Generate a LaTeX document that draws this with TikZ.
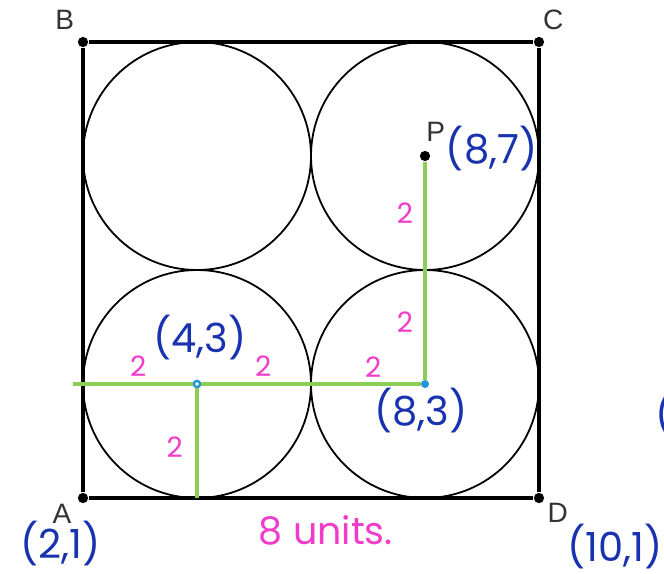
\documentclass[tikz,border=0pt]{standalone}
\usepackage{fontspec}
\setmainfont{Liberation Sans}
\newfontfamily\handfont{Poppins}
\usetikzlibrary{positioning}
\definecolor{penblue}{RGB}{25,50,175}
\definecolor{penpink}{RGB}{240,60,200}
\definecolor{rulegreen}{RGB}{140,205,85}
\definecolor{dotcyan}{RGB}{30,150,220}

\begin{document}
\begin{tikzpicture}[x=1cm,y=1cm,
  corner/.style={circle,fill=black,inner sep=0pt,minimum size=0.18cm},
  pt/.style={font=\fontsize{14}{14}\selectfont,text=black!80},
  coordtext/.style={font=\handfont\fontsize{20}{20}\selectfont,text=penblue},
  len/.style={font=\handfont\fontsize{14}{14}\selectfont,text=penpink},
  radius line/.style={rulegreen,line width=1.7pt},
  side/.style={line width=1.6pt},
  ring/.style={line width=0.9pt}
]
\useasboundingbox (0.544,-0.316) rectangle (12.193,9.737);
% corners of the square
\node[corner] (A) at (2,1) {};
\node[corner] (B) at (2,9) {};
\node[corner] (C) at (10,9) {};
\node[corner] (D) at (10,1) {};
\draw[side] (A) -- (B) -- (C) -- (D) -- (A);
% the four circles
\foreach \cx/\cy in {4/3,8/3,4/7,8/7}
  \draw[ring] (\cx,\cy) circle (2);
% centres
\node[corner] (P) at (8,7) {};
\node[circle,draw=dotcyan,line width=1.2pt,inner sep=0pt,minimum size=0.11cm] (Q) at (4,3) {};
\node[circle,fill=dotcyan,inner sep=0pt,minimum size=0.14cm] (R) at (8,3) {};
\coordinate (left) at (1.82,3);
\coordinate (foot) at (4,1);
\draw[radius line] (left) -- (Q);
\draw[radius line] (Q) -- (R);
\draw[radius line] (Q) -- (foot);
\draw[radius line] (R) -- (P);
% labels
\node[pt] (labA) at (1.63,0.72) {A};
\node[pt] (labB) at (1.68,9.39) {B};
\node[pt] (labC) at (10.25,9.39) {C};
\node[pt] (labD) at (10.33,0.74) {D};
\node[pt] (labP) at (8.19,7.43) {P};
\node[coordtext] (cA) at (1.61,0.2) {(2,1)};
\node[coordtext] (cD) at (11.33,0.15) {(10,1)};
\node[coordtext] (cP) at (9.17,7.14) {(8,7)};
\node[coordtext] (cQ) at (4.05,3.82) {(4,3)};
\node[coordtext] (cR) at (7.93,2.53) {(8,3)};
\node[coordtext] (cut) at (12.2,2.47) {(};
\node[len] (l1) at (2.97,3.32) {2};
\node[len] (l2) at (5.16,3.32) {2};
\node[len] (l3) at (7.09,3.30) {2};
\node[len] (l4) at (3.61,1.89) {2};
\node[len] (l5) at (7.65,4.09) {2};
\node[len] (l6) at (7.65,6.00) {2};
\node[len,font=\handfont\fontsize{19}{19}\selectfont] (units) at (6.26,0.44) {8 units.};
\end{tikzpicture}
\end{document}
